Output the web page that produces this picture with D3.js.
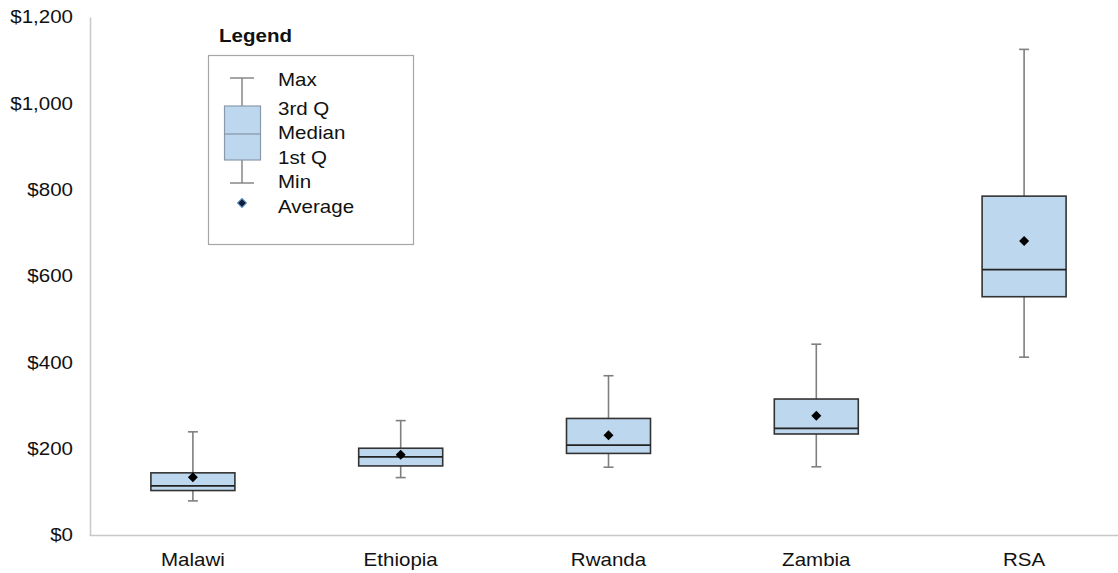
<!DOCTYPE html>
<html><head><meta charset="utf-8">
<script src="https://cdn.jsdelivr.net/npm/d3@7"></script>
<style>body{margin:0;background:#fff}svg{display:block;font-family:"Liberation Sans",Arial,sans-serif}</style>
</head><body><svg id="c" width="1118" height="573"></svg>
<script>
const categories = ["Malawi","Ethiopia","Rwanda","Zambia","RSA"];
const minVals    = [79, 133, 157, 158, 412];
const q1Vals     = [103, 160, 189, 234, 552];
const medianVals = [114, 181, 208, 247, 615];
const q3Vals     = [144, 201, 270, 315, 785];
const maxVals    = [239, 265, 369, 442, 1125];
const avgVals    = [134, 186, 231, 276, 681];
const yTicks     = [0, 200, 400, 600, 800, 1000, 1200];
const legendLabels = ["Max","3rd Q","Median","1st Q","Min","Average"];

const SX = 1.14, FS = 18;
const svg = d3.select("#c");
const y = d3.scaleLinear().domain([0,1200]).range([535,17]);
const x = d3.scaleBand().domain(categories).range([89,1128]);
const fmt = v => "$" + d3.format(",")(v);

// y axis
const ya = svg.append("g").attr("transform","translate(90,0)")
  .call(d3.axisLeft(y).tickValues(yTicks).tickFormat(fmt).tickSize(0).tickPadding(16));
ya.select(".domain").attr("stroke","#c8c8c8").attr("stroke-width",1.5);
ya.selectAll("text").attr("font-size",FS).attr("fill","#111").attr("font-family","Liberation Sans, Arial, sans-serif")
  .attr("transform",`scale(${SX},1)`).attr("x",-17/SX);

// x axis
const xa = svg.append("g").attr("transform","translate(0,535)")
  .call(d3.axisBottom(x).tickSize(0).tickPadding(18));
xa.select(".domain").attr("stroke","#c8c8c8").attr("stroke-width",1.5);
xa.selectAll("text").attr("font-size",FS).attr("fill","#111").attr("font-family","Liberation Sans, Arial, sans-serif")
  .attr("transform",`scale(${SX},1)`);

const data = categories.map((c,i)=>({c,min:minVals[i],q1:q1Vals[i],med:medianVals[i],q3:q3Vals[i],max:maxVals[i],avg:avgVals[i]}));
const bw = 84, cap = 10;
const g = svg.append("g").selectAll("g").data(data).join("g")
  .attr("transform", d=>`translate(${x(d.c)+x.bandwidth()/2},0)`);
// whiskers
g.append("line").attr("x1",0).attr("x2",0).attr("y1",d=>y(d.max)).attr("y2",d=>y(d.q3)).attr("stroke","#7f7f7f").attr("stroke-width",1.6);
g.append("line").attr("x1",0).attr("x2",0).attr("y1",d=>y(d.q1)).attr("y2",d=>y(d.min)).attr("stroke","#7f7f7f").attr("stroke-width",1.6);
g.append("line").attr("x1",-cap/2).attr("x2",cap/2).attr("y1",d=>y(d.max)).attr("y2",d=>y(d.max)).attr("stroke","#7f7f7f").attr("stroke-width",1.6);
g.append("line").attr("x1",-cap/2).attr("x2",cap/2).attr("y1",d=>y(d.min)).attr("y2",d=>y(d.min)).attr("stroke","#7f7f7f").attr("stroke-width",1.6);
// box
g.append("rect").attr("x",-bw/2).attr("width",bw).attr("y",d=>y(d.q3)).attr("height",d=>y(d.q1)-y(d.q3))
  .attr("fill","#bdd7ee").attr("stroke","#333").attr("stroke-width",1.6);
g.append("line").attr("x1",-bw/2).attr("x2",bw/2).attr("y1",d=>y(d.med)).attr("y2",d=>y(d.med)).attr("stroke","#222").attr("stroke-width",1.8);
// mean
const diamond = d3.symbol().type(d3.symbolSquare).size(50);
g.append("path").attr("d",diamond()).attr("transform",d=>`translate(0,${y(d.avg)}) rotate(45)`).attr("fill","#000");

// legend
svg.append("text").attr("transform","translate(219,42) scale("+SX+",1)").attr("font-size",FS).attr("font-weight","bold").attr("fill","#111").text("Legend");
svg.append("rect").attr("x",208.5).attr("y",55.5).attr("width",205).attr("height",189).attr("fill","#fff").attr("stroke","#a6a6a6").attr("stroke-width",1.2);
const lg = svg.append("g");
lg.append("line").attr("x1",242).attr("x2",242).attr("y1",78).attr("y2",183).attr("stroke","#7f7f7f").attr("stroke-width",1.4);
lg.append("line").attr("x1",230).attr("x2",254).attr("y1",78).attr("y2",78).attr("stroke","#7f7f7f").attr("stroke-width",1.4);
lg.append("line").attr("x1",230).attr("x2",254).attr("y1",183).attr("y2",183).attr("stroke","#7f7f7f").attr("stroke-width",1.4);
lg.append("rect").attr("x",224.5).attr("y",106).attr("width",36).attr("height",54).attr("fill","#bdd7ee").attr("stroke","#8a9aaa").attr("stroke-width",1.2);
lg.append("line").attr("x1",224.5).attr("x2",260.5).attr("y1",134).attr("y2",134).attr("stroke","#7f8a94").attr("stroke-width",1.2);
lg.append("path").attr("d",d3.symbol().type(d3.symbolSquare).size(40)()).attr("transform","translate(242,203) rotate(45)").attr("fill","#0d1f3a").attr("stroke","#5b8fc7").attr("stroke-width",1);
const ly = [80,109,133,158,182,207];
lg.selectAll("text.l").data(legendLabels).join("text").attr("class","l")
  .attr("transform",(d,i)=>`translate(278,${ly[i]+6}) scale(${SX},1)`).attr("font-size",FS).attr("fill","#111").text(d=>d);
</script></body></html>
